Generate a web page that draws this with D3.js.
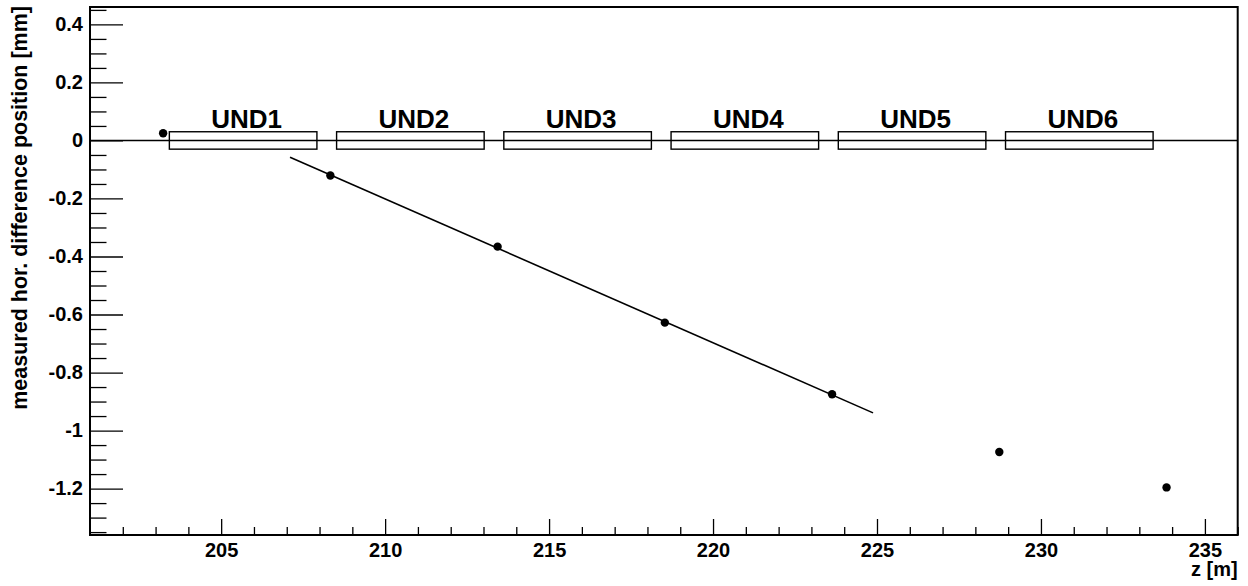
<!DOCTYPE html>
<html>
<head>
<meta charset="utf-8">
<script src="https://cdn.jsdelivr.net/npm/d3@7"></script>
<style>
  html, body { margin: 0; padding: 0; background: #fff; }
  svg { display: block; }
  text { font-family: "Liberation Sans", Arial, Helvetica, sans-serif; font-weight: bold; fill: #000; }
</style>
</head>
<body>
<svg id="chart" width="1248" height="586"></svg>
<script>
// Measured horizontal position differences along the beamline
const zPositions = [203.23, 208.33, 213.43, 218.53, 223.63, 228.73, 233.83];
const horDiff    = [0.025, -0.121, -0.366, -0.628, -0.875, -1.074, -1.196];

// Straight-line fit through the central points (endpoints)
const fitZ = [207.1, 224.88];
const fitY = [-0.058, -0.939];

// Undulator segments: start / end along z, half-height of the box in mm
const undNames = ["UND1", "UND2", "UND3", "UND4", "UND5", "UND6"];
const undStart = [203.42, 208.52, 213.62, 218.72, 223.82, 228.92];
const undEnd   = [207.92, 213.02, 218.12, 223.22, 228.32, 233.42];
const undHalf  = 0.03;

// Axis ranges and tick values
const xDomain = [201, 236];
const yDomain = [-1.36, 0.46];
const xMajor = [205, 210, 215, 220, 225, 230, 235];
const yMajor = [-1.2, -1, -0.8, -0.6, -0.4, -0.2, 0, 0.2, 0.4];
const xTitle = "z [m]";
const yTitle = "measured hor. difference position [mm]";

const frame = { left: 90, right: 1237.7, top: 7, bottom: 535 };

const svg = d3.select("#chart");
const x = d3.scaleLinear().domain(xDomain).range([frame.left, frame.right]);
const y = d3.scaleLinear().domain(yDomain).range([frame.bottom, frame.top]);

const xMinor = d3.range(202, 236.001, 1).filter(v => !xMajor.includes(v));
const yMinor = d3.range(-1.35, 0.4501, 0.05).map(v => +v.toFixed(2))
  .filter(v => !yMajor.some(m => Math.abs(m - v) < 1e-6));

// Plain hyphen-minus labels
const fmtY = d => String(+d.toFixed(1));

// Bottom axis: major ticks with labels, minor ticks without
const gx = svg.append("g").attr("transform", `translate(0,${frame.bottom})`);
gx.call(d3.axisBottom(x).tickValues(xMajor).tickSize(-16).tickPadding(8).tickFormat(d3.format("d")))
  .call(g => g.select(".domain").remove())
  .call(g => g.selectAll("line").attr("stroke", "#000").attr("stroke-width", 1.3))
  .call(g => g.selectAll("text").attr("font-size", 20).attr("font-family", null).attr("fill", "#000"));
svg.append("g").attr("transform", `translate(0,${frame.bottom})`)
  .call(d3.axisBottom(x).tickValues(xMinor).tickSize(-8).tickFormat(""))
  .call(g => g.select(".domain").remove())
  .call(g => g.selectAll("line").attr("stroke", "#000").attr("stroke-width", 1.3));

// Left axis
const gy = svg.append("g").attr("transform", `translate(${frame.left},0)`);
gy.call(d3.axisLeft(y).tickValues(yMajor).tickSize(-33).tickPadding(7).tickFormat(fmtY))
  .call(g => g.select(".domain").remove())
  .call(g => g.selectAll("line").attr("stroke", "#000").attr("stroke-width", 1.3))
  .call(g => g.selectAll("text").attr("font-size", 20).attr("font-family", null).attr("fill", "#000"));
svg.append("g").attr("transform", `translate(${frame.left},0)`)
  .call(d3.axisLeft(y).tickValues(yMinor).tickSize(-16.5).tickFormat(""))
  .call(g => g.select(".domain").remove())
  .call(g => g.selectAll("line").attr("stroke", "#000").attr("stroke-width", 1.3));

// Zero reference line across the frame
svg.append("line")
  .attr("x1", x(xDomain[0])).attr("x2", x(xDomain[1]))
  .attr("y1", y(0)).attr("y2", y(0))
  .attr("stroke", "#000").attr("stroke-width", 1.5);

// Undulator boxes and names
const und = svg.append("g");
undNames.forEach((name, i) => {
  und.append("rect")
    .attr("x", x(undStart[i])).attr("y", y(undHalf))
    .attr("width", x(undEnd[i]) - x(undStart[i]))
    .attr("height", y(-undHalf) - y(undHalf))
    .attr("fill", "none").attr("stroke", "#000").attr("stroke-width", 1.4);
  und.append("text")
    .attr("x", (x(undStart[i]) + x(undEnd[i])) / 2 + 3.5)
    .attr("y", y(undHalf) - 4)
    .attr("text-anchor", "middle")
    .attr("font-size", 26)
    .text(name);
});

// Fit line
svg.append("path")
  .attr("d", d3.line().x(d => x(d[0])).y(d => y(d[1]))(fitZ.map((z, i) => [z, fitY[i]])))
  .attr("fill", "none").attr("stroke", "#000").attr("stroke-width", 1.6);

// Measured points
svg.append("g").selectAll("circle")
  .data(zPositions.map((z, i) => [z, horDiff[i]]))
  .join("circle")
  .attr("cx", d => x(d[0])).attr("cy", d => y(d[1]))
  .attr("r", 4.2).attr("fill", "#000");

// Frame
svg.append("rect")
  .attr("x", frame.left).attr("y", frame.top)
  .attr("width", frame.right - frame.left).attr("height", frame.bottom - frame.top)
  .attr("fill", "none").attr("stroke", "#000").attr("stroke-width", 2);

// Axis titles
svg.append("text")
  .attr("x", frame.right).attr("y", 576)
  .attr("text-anchor", "end").attr("font-size", 20)
  .text(xTitle);
svg.append("text")
  .attr("transform", "translate(27,6) rotate(-90)")
  .attr("text-anchor", "end").attr("font-size", 21.5)
  .text(yTitle);
</script>
</body>
</html>
